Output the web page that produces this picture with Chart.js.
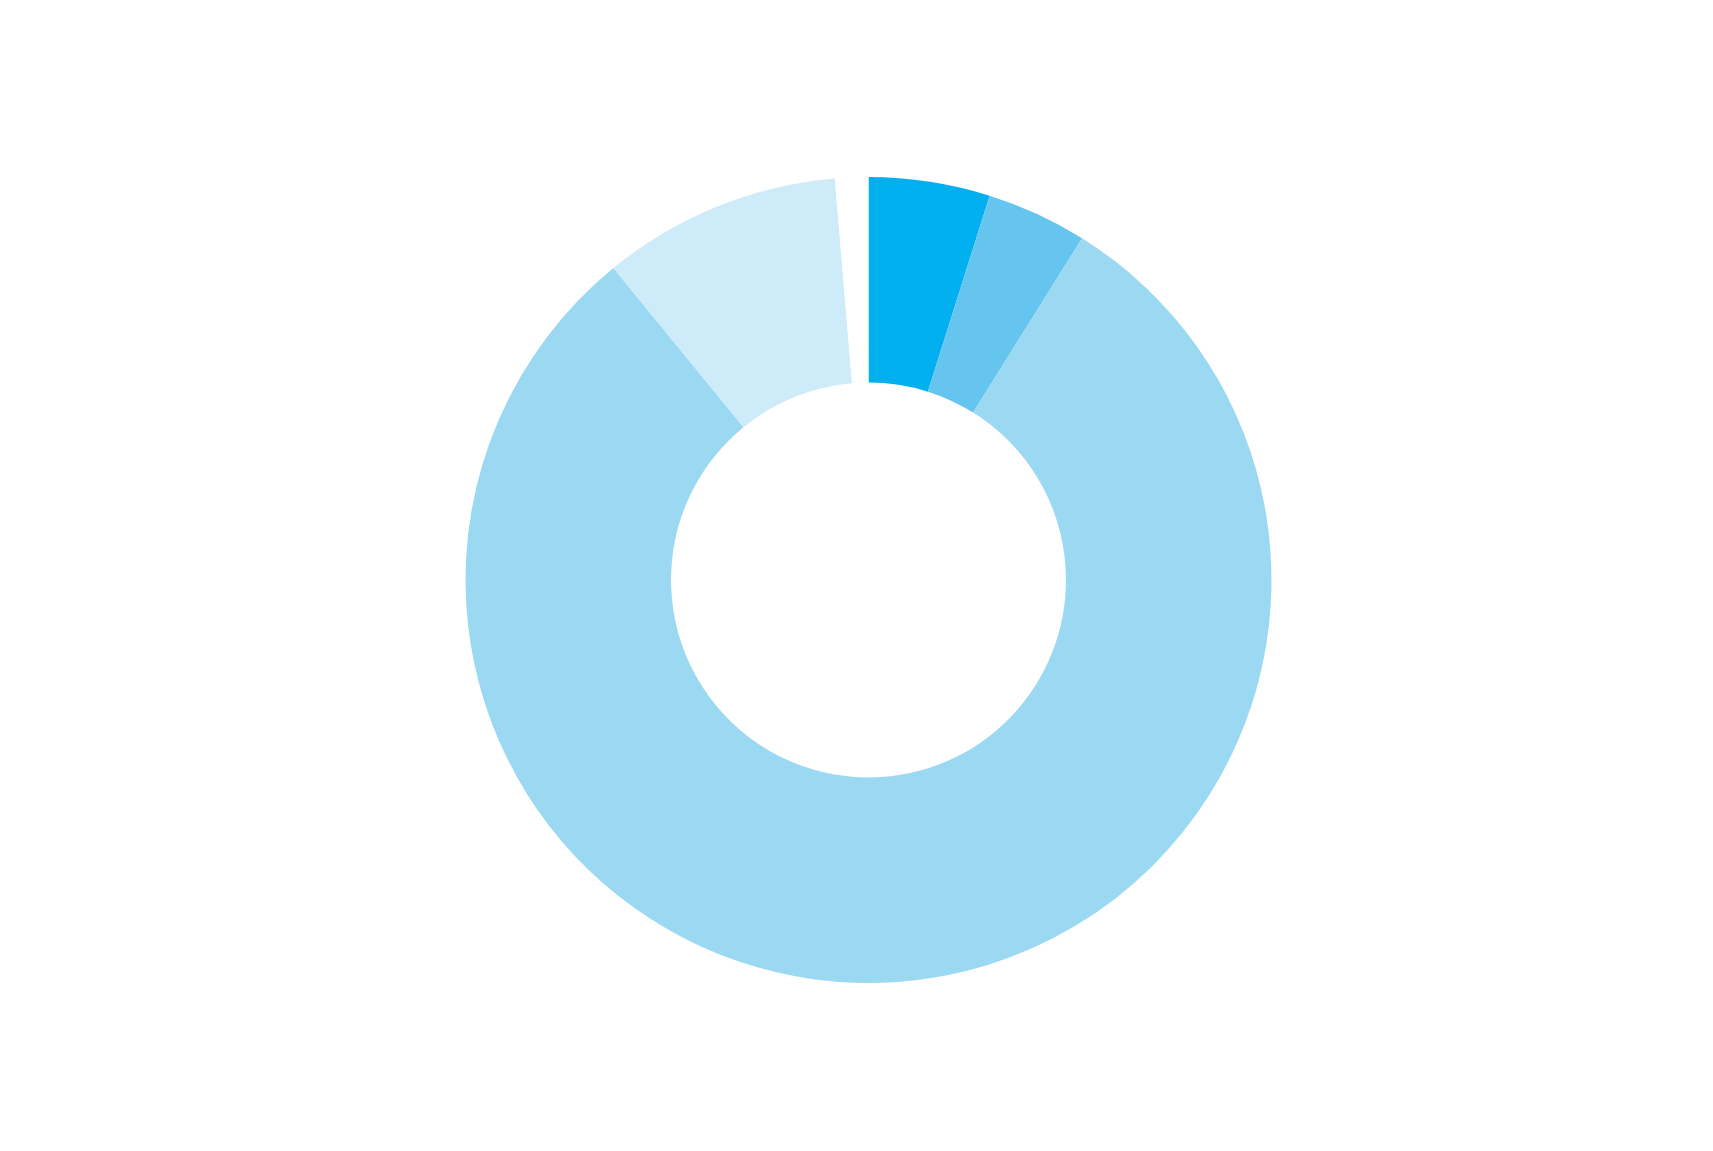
<!DOCTYPE html>
<html>
<head>
<meta charset="utf-8">
<script src="https://cdn.jsdelivr.net/npm/chart.js@4"></script>
<style>
  html, body { margin: 0; padding: 0; background: #ffffff; }
  #wrap { width: 1713px; height: 1151px; position: relative; }
</style>
</head>
<body>
<div id="wrap"><canvas id="c"></canvas></div>
<script>
const categories = ['Segment A', 'Segment B', 'Segment C', 'Segment D', 'Gap'];
const values = [4.86, 4.03, 80.2, 9.58, 1.33];
const colors = ['#02AFEF', '#66C5EE', '#9BD9F3', '#CDEBF8', '#FFFFFF'];

new Chart(document.getElementById('c'), {
  type: 'doughnut',
  data: {
    labels: categories,
    datasets: [{
      data: values,
      backgroundColor: colors,
      borderColor: '#ffffff',
      borderWidth: 0
    }]
  },
  options: {
    responsive: true,
    maintainAspectRatio: false,
    animation: false,
    cutout: '49%',
    layout: { padding: { top: 177, bottom: 168, left: 24, right: 0 } },
    plugins: {
      legend: { display: false },
      tooltip: { enabled: false },
      title: { display: false }
    }
  }
});
</script>
</body>
</html>
